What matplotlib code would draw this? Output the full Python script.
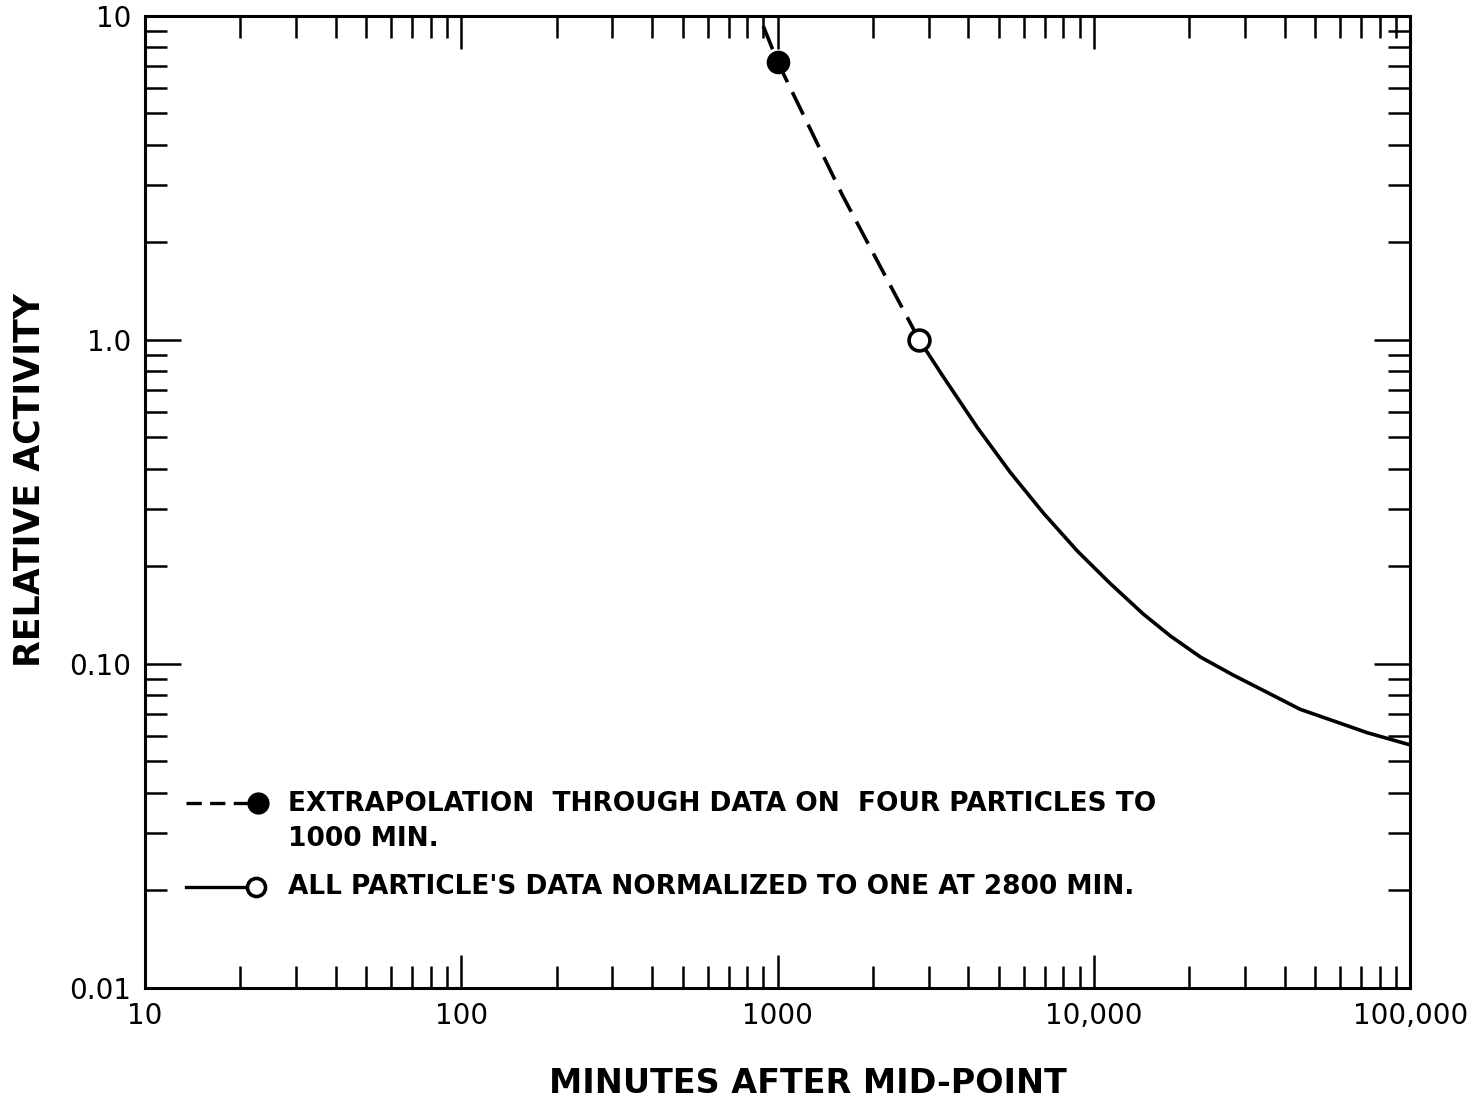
import numpy as np
import matplotlib
matplotlib.use('Agg')
import matplotlib.pyplot as plt
from matplotlib.ticker import FixedLocator, LogLocator, NullFormatter

plt.rcParams['font.family'] = ['DejaVu Sans']
plt.rcParams['lines.scale_dashes'] = False

# extrapolated (dashed) part
x_extrap = [900, 1000, 1600, 2800]
y_extrap = [9.3, 7.2, 2.8, 1.0]

# normalized (solid) part
x_norm = [2800, 3335, 4277, 5433, 6915, 8854, 11250, 14310, 17420,
          21680, 27560, 35300, 44830, 57100, 73100, 100000]
y_norm = [1.0, 0.77, 0.536, 0.39, 0.292, 0.223, 0.177, 0.1425, 0.122,
          0.105, 0.0923, 0.0816, 0.0724, 0.0667, 0.0613, 0.0562]

# the two marked points
x_filled, y_filled = 1000, 7.2
x_open, y_open = 2800, 1.0

x_ticks = [10, 100, 1000, 10000, 100000]
x_ticklabels = ['10', '100', '1000', '10,000', '100,000']
y_ticks = [0.01, 0.1, 1.0, 10]
y_ticklabels = ['0.01', '0.10', '1.0', '10']

legend_1 = 'EXTRAPOLATION  THROUGH DATA ON  FOUR PARTICLES TO\n1000 MIN.'
legend_2 = "ALL PARTICLE'S DATA NORMALIZED TO ONE AT 2800 MIN."

fig = plt.figure(figsize=(14.8, 11.1), dpi=100)
ax = fig.add_axes([0.098, 0.110, 0.855, 0.8757])

ax.set_xscale('log')
ax.set_yscale('log')
ax.set_xlim(10, 100000)
ax.set_ylim(0.01, 10)

lw = 2.6
ax.plot(x_extrap, y_extrap, color='black', lw=lw, dashes=(18, 8))
ax.plot(x_norm, y_norm, color='black', lw=lw)
ax.plot(x_filled, y_filled, 'o', color='black', ms=16, zorder=5)
ax.plot(x_open, y_open, 'o', mfc='white', mec='black', mew=2.6, ms=15, zorder=5)

# ticks on every side, pointing in
ax.xaxis.set_major_locator(FixedLocator(x_ticks))
ax.yaxis.set_major_locator(FixedLocator(y_ticks))
ax.xaxis.set_minor_locator(LogLocator(base=10, subs=np.arange(2, 10), numticks=20))
ax.yaxis.set_minor_locator(LogLocator(base=10, subs=np.arange(2, 10), numticks=20))
ax.xaxis.set_minor_formatter(NullFormatter())
ax.yaxis.set_minor_formatter(NullFormatter())
ax.set_xticklabels(x_ticklabels)
ax.set_yticklabels(y_ticklabels)
ax.tick_params(which='both', direction='in', top=True, right=True, width=1.8)
ax.tick_params(which='major', length=24, labelsize=20, pad=10)
ax.tick_params(which='minor', length=16)
ax.tick_params(axis='y', which='major', length=26, pad=10)

for s in ax.spines.values():
    s.set_linewidth(2.2)

ax.set_xlabel('MINUTES AFTER MID-POINT', fontsize=24, fontweight='bold', va='center')
ax.xaxis.set_label_coords(0.524, -0.098)
ax.set_ylabel('RELATIVE ACTIVITY', fontsize=25, fontweight='bold', va='center')
ax.yaxis.set_label_coords(-0.091, 0.523)

# legend drawn by hand in axes fraction
t = ax.transAxes
ax.plot([0.032, 0.085], [0.190, 0.190], color='black', lw=2.4, dashes=(11, 6), transform=t)
ax.plot(0.0895, 0.190, 'o', color='black', ms=15, transform=t)
ax.text(0.113, 0.171, legend_1, transform=t, fontsize=19, fontweight='bold',
        va='center', ha='left', linespacing=1.42)
ax.plot([0.032, 0.082], [0.104, 0.104], color='black', lw=2.4, transform=t)
ax.plot(0.0875, 0.104, 'o', mfc='white', mec='black', mew=2.6, ms=13, transform=t)
ax.text(0.113, 0.104, legend_2, transform=t, fontsize=19, fontweight='bold',
        va='center', ha='left')

fig.savefig('out.png', dpi=100, facecolor='white')
